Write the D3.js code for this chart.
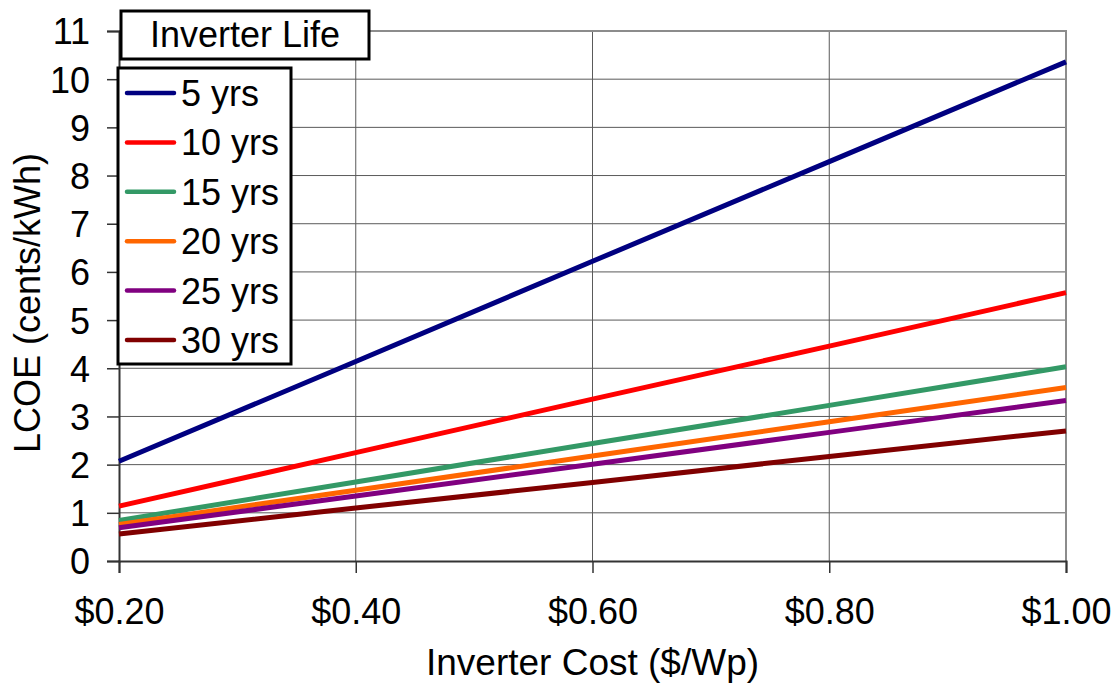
<!DOCTYPE html>
<html>
<head>
<meta charset="utf-8">
<script src="https://cdn.jsdelivr.net/npm/d3@7"></script>
<style>
  body { margin: 0; background: #fff; }
  svg { font-family: "Liberation Sans", Arial, sans-serif; }
</style>
</head>
<body>
<svg id="chart" width="1117" height="683"></svg>
<script>
// inverter cost ($/Wp)
var costs = [0.2, 0.4, 0.6, 0.8, 1.0];
var xTicks = [0.2, 0.4, 0.6, 0.8, 1.0];
var yTicks = [0, 1, 2, 3, 4, 5, 6, 7, 8, 9, 10, 11];

// LCOE (cents/kWh) per inverter life
var lives = ['5 yrs', '10 yrs', '15 yrs', '20 yrs', '25 yrs', '30 yrs'];
var lcoe5 = [2.07, 4.14, 6.22, 8.29, 10.36];
var lcoe10 = [1.14, 2.25, 3.36, 4.46, 5.57];
var lcoe15 = [0.84, 1.64, 2.44, 3.23, 4.03];
var lcoe20 = [0.76, 1.47, 2.18, 2.89, 3.60];
var lcoe25 = [0.69, 1.35, 2.01, 2.67, 3.33];
var lcoe30 = [0.56, 1.10, 1.63, 2.17, 2.70];
var colors = ['#000080', '#ff0000', '#339966', '#ff6600', '#800080', '#800000'];

var series = [lcoe5, lcoe10, lcoe15, lcoe20, lcoe25, lcoe30];

var svg = d3.select('#chart');
var plotL = 119, plotR = 1066, plotT = 31, plotB = 561;

var x = d3.scaleLinear().domain([0.2, 1.0]).range([plotL, plotR]);
var y = d3.scaleLinear().domain([0, 11]).range([plotB, plotT]);

// gridlines
var grid = svg.append('g');
grid.selectAll('line.h')
  .data(yTicks.slice(1))
  .enter().append('line')
    .attr('x1', plotL).attr('x2', plotR)
    .attr('y1', function(d) { return y(d); })
    .attr('y2', function(d) { return y(d); })
    .style('stroke', '#5a5a5a').style('stroke-width', 1);
grid.selectAll('line.v')
  .data(xTicks.slice(1, -1))
  .enter().append('line')
    .attr('x1', function(d) { return x(d); })
    .attr('x2', function(d) { return x(d); })
    .attr('y1', plotT).attr('y2', plotB)
    .style('stroke', '#5a5a5a').style('stroke-width', 1);

// plot border (top / right)
svg.append('path')
  .attr('d', 'M' + plotL + ',' + plotT + 'H' + plotR + 'V' + plotB)
  .style('fill', 'none').style('stroke', '#8c8c8c').style('stroke-width', 2);

// axes
var yAxis = d3.axisLeft(y).tickValues(yTicks).tickSize(12).tickPadding(17);
var xAxis = d3.axisBottom(x).tickValues(xTicks).tickSize(12).tickPadding(25)
  .tickFormat(function(d) { return '$' + d.toFixed(2); });

var gy = svg.append('g').attr('transform', 'translate(' + plotL + ',0)').call(yAxis);
var gx = svg.append('g').attr('transform', 'translate(0,' + plotB + ')').call(xAxis);

[gx, gy].forEach(function(g) {
  g.select('.domain').style('stroke', '#333').style('stroke-width', 2);
  g.selectAll('.tick line').style('stroke', '#333').style('stroke-width', 1.5);
  g.selectAll('.tick text')
    .style('font-size', '36px')
    .style('font-family', '"Liberation Sans", Arial, sans-serif')
    .style('fill', '#000');
});
gy.selectAll('.tick text').attr('dy', '0.36em');

// lines
var line = d3.line()
  .x(function(d, i) { return x(costs[i]); })
  .y(function(d) { return y(d); });

svg.append('g').selectAll('path')
  .data(series)
  .enter().append('path')
    .attr('d', line)
    .style('fill', 'none')
    .style('stroke', function(d, i) { return colors[i]; })
    .style('stroke-width', 5);

// axis titles
svg.append('text')
  .attr('x', (plotL + plotR) / 2).attr('y', 675)
  .attr('text-anchor', 'middle')
  .style('font-size', '37px')
  .text('Inverter Cost ($/Wp)');

svg.append('text')
  .attr('transform', 'translate(40,303) rotate(-90)')
  .attr('text-anchor', 'middle')
  .style('font-size', '36px')
  .text('LCOE (cents/kWh)');

// legend title
var titleBox = svg.append('g');
titleBox.append('rect')
  .attr('x', 121).attr('y', 11).attr('width', 248).attr('height', 48)
  .style('fill', '#fff').style('stroke', '#000').style('stroke-width', 3);
titleBox.append('text')
  .attr('x', 245).attr('y', 47)
  .attr('text-anchor', 'middle')
  .style('font-size', '36px')
  .text('Inverter Life');

// legend
var legend = svg.append('g');
legend.append('rect')
  .attr('x', 118).attr('y', 68).attr('width', 173).attr('height', 296)
  .style('fill', '#fff').style('stroke', '#000').style('stroke-width', 3);

var items = legend.selectAll('g.item')
  .data(lives)
  .enter().append('g')
    .attr('transform', function(d, i) { return 'translate(0,' + (93 + i * 49.4) + ')'; });

items.append('line')
  .attr('x1', 127).attr('x2', 174)
  .style('stroke', function(d, i) { return colors[i]; })
  .style('stroke-width', 4.5)
  .style('stroke-linecap', 'round');

items.append('text')
  .attr('x', 181).attr('y', 13)
  .style('font-size', '36px')
  .text(function(d) { return d; });
</script>
</body>
</html>
